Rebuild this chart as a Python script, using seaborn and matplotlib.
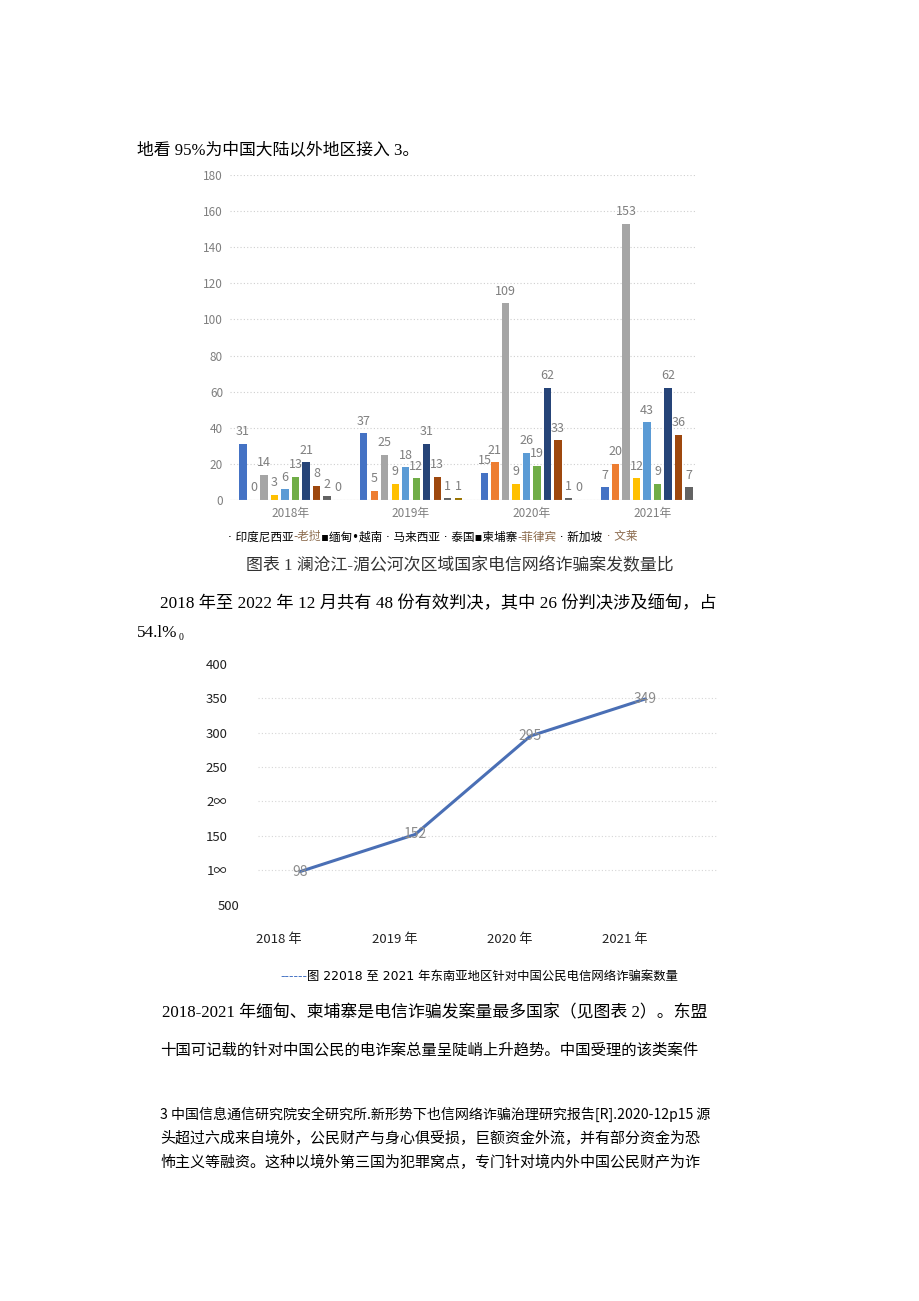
import numpy as np
import pandas as pd
import matplotlib
matplotlib.use("Agg")
import matplotlib.pyplot as plt
import matplotlib.transforms as mtransforms
import seaborn as sns

# bar chart data: cases per country per year
years = ["2018年", "2019年", "2020年", "2021年"]
countries = ["印度尼西亚", "老挝", "缅甸", "越南", "马来西亚", "泰国", "柬埔寨", "菲律宾", "新加坡", "文莱"]
cases_2018 = [31, 0, 14, 3, 6, 13, 21, 8, 2, 0]
cases_2019 = [37, 5, 25, 9, 18, 12, 31, 13, 1, 1]
cases_2020 = [15, 21, 109, 9, 26, 19, 62, 33, 1, 0]
cases_2021 = [7, 20, 153, 12, 43, 9, 62, 36, 7, 0]
bar_colors = ["#4472C4", "#ED7D31", "#A5A5A5", "#FFC000", "#5B9BD5",
              "#70AD47", "#264478", "#9E480E", "#636363", "#997300"]
bar_yticks = list(range(0, 181, 20))

# line chart data: total cases per year
line_years = ["2018 年", "2019 年", "2020 年", "2021 年"]
line_totals = [98, 152, 295, 349]
line_ytick_values = [50, 100, 150, 200, 250, 300, 350, 400]
line_ytick_labels = ["500", "1∞", "150", "2∞", "250", "300", "350", "400"]

W, H = 920, 1301
sns.set_style("white")
plt.rcParams["font.family"] = ["Noto Sans CJK SC", "DejaVu Sans"]
body_font = ["Liberation Serif", "Noto Sans CJK SC"]
cjk_font = ["Noto Sans CJK SC", "DejaVu Sans"]
legend_font = ["DejaVu Sans", "Noto Sans CJK SC"]

fig = plt.figure(figsize=(W / 100, H / 100), dpi=100)
fig.patch.set_facecolor("white")


def px_axes(left, top, right, bottom):
    return fig.add_axes([left / W, 1 - bottom / H, (right - left) / W, (bottom - top) / H])


def put(x, y, s, size=12.3, family=body_font, color="black"):
    return fig.text(x / W, 1 - y / H, s, fontsize=size, family=family, color=color,
                    ha="left", va="center")


def put_parts(x, y, parts, size, family):
    renderer = fig.canvas.get_renderer()
    for s, c in parts:
        t = put(x, y, s, size=size, family=family, color=c)
        x += t.get_window_extent(renderer).width
    return x


# ---- bar chart ----
df = pd.DataFrame({
    "year": np.repeat(years, len(countries)),
    "country": countries * len(years),
    "cases": cases_2018 + cases_2019 + cases_2020 + cases_2021,
})
ax1 = px_axes(230, 175, 697, 500)
sns.barplot(data=df, x="year", y="cases", hue="country", order=years, hue_order=countries,
            palette=bar_colors, saturation=1, width=0.87, gap=0.3, legend=False,
            linewidth=0, ax=ax1)
for cont in ax1.containers:
    for t in ax1.bar_label(cont, fmt="%d", padding=4, fontsize=9, color="#7f7f7f"):
        t.set_clip_on(True)
ax1.set_xlim(-0.5, 3.37)
ax1.set_ylim(0, 180)
ax1.set_yticks(bar_yticks)
ax1.yaxis.grid(True, linestyle=(0, (1, 2)), color="#cfcfcf", linewidth=0.8)
ax1.set_axisbelow(True)
ax1.axhline(0, color="#d0d0d0", linewidth=0.8)
ax1.tick_params(axis="both", length=0, labelsize=8.5, labelcolor="#7f7f7f")
ax1.tick_params(axis="x", pad=5)
ax1.tick_params(axis="y", pad=5)
ax1.set_xlabel("")
ax1.set_ylabel("")
sns.despine(ax=ax1, left=True, bottom=True)

# legend drawn as a text line, as in the scanned page
brown = "#8b6a4c"
put_parts(228, 537, [("· 印度尼西亚", "black"), ("-老挝", brown),
                     ("▪缅甸•越南 · 马来西亚 · 泰国▪柬埔寨", "black"),
                     ("-菲律宾", brown), (" · 新加坡", "black"), (" · 文莱", brown)],
          8.4, legend_font)

# ---- line chart ----
ax2 = px_axes(258, 655, 718, 930)
line_df = pd.DataFrame({"pos": np.arange(len(line_totals)), "total": line_totals})
sns.lineplot(data=line_df, x="pos", y="total", color="#4a6fb5", linewidth=2.2, ax=ax2)
for i, v in enumerate(line_totals):
    ax2.text(i, v, str(v), ha="center", va="center", fontsize=10, color="#8c8c8c")
ax2.set_xlim(-0.365, 3.63)
ax2.set_ylim(13.1, 412.8)
for v in line_ytick_values[1:-1]:
    ax2.axhline(v, color="#d6d6d6", linestyle=(0, (1, 2)), linewidth=0.8, zorder=0)
ax2.set_yticks(line_ytick_values)
ax2.set_yticklabels(line_ytick_labels)
ax2.set_xticks(np.arange(len(line_years)) - 0.18)
ax2.set_xticklabels(line_years)
ax2.tick_params(axis="both", length=0, labelsize=9.5, labelcolor="#222222")
ax2.tick_params(axis="y", pad=22)
ax2.tick_params(axis="x", pad=2)
ax2.get_yticklabels()[0].set_transform(
    ax2.get_yticklabels()[0].get_transform()
    + mtransforms.ScaledTranslation(12 / 100, 0, fig.dpi_scale_trans))
ax2.set_xlabel("")
ax2.set_ylabel("")
sns.despine(ax=ax2, left=True, bottom=True)

put_parts(280, 977, [("------", "#4472C4"),
                     ("图 22018 至 2021 年东南亚地区针对中国公民电信网络诈骗案数量", "black")],
          8.9, legend_font)

# ---- page text ----
put(137, 150, "地看 95%为中国大陆以外地区接入 3。", size=12.1)
put(246, 566, "图表 1 澜沧江-湄公河次区域国家电信网络诈骗案发数量比", size=12.2, color="#333333")
put(160, 604, "2018 年至 2022 年 12 月共有 48 份有效判决，其中 26 份判决涉及缅甸，占", size=12.4)
x_end = put_parts(137, 633, [("54.l%", "black")], 12.3, body_font)
put(x_end + 1, 637, "0", size=7)
put(162, 1013, "2018-2021 年缅甸、柬埔寨是电信诈骗发案量最多国家（见图表 2）。东盟", size=12.2)
put(160, 1050, "十国可记载的针对中国公民的电诈案总量呈陡峭上升趋势。中国受理的该类案件", size=11.1)
put(160, 1114, "3 中国信息通信研究院安全研究所.新形势下也信网络诈骗治理研究报告[R].2020-12p15 源",
    size=10.1, family=cjk_font)
put(160, 1138, "头超过六成来自境外，公民财产与身心俱受损，巨额资金外流，并有部分资金为恐",
    size=10.8, family=cjk_font)
put(160, 1162, "怖主义等融资。这种以境外第三国为犯罪窝点，专门针对境内外中国公民财产为诈",
    size=10.8, family=cjk_font)

fig.savefig("out.png", dpi=100)
